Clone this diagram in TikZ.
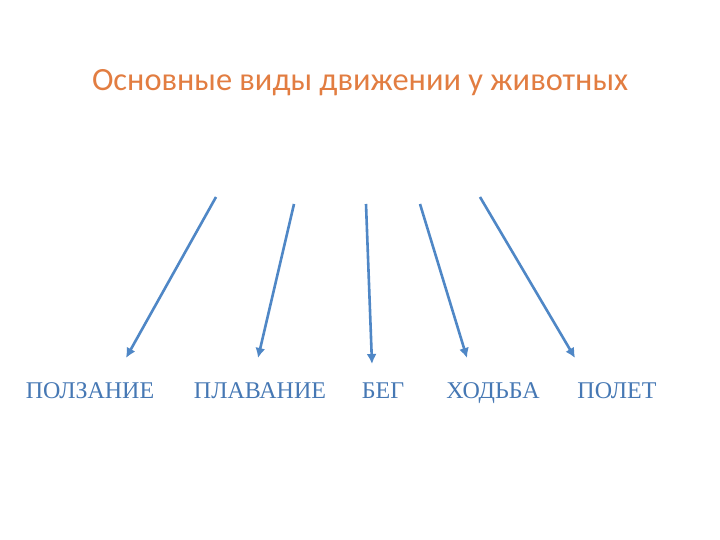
\documentclass[tikz,border=0pt]{standalone}
\usepackage{fontspec}
\usetikzlibrary{arrows.meta}
\setmainfont{Liberation Serif}
\newfontfamily\titlefont{Carlito}
\definecolor{arrowblue}{RGB}{79,135,198}
\definecolor{labelblue}{RGB}{70,120,180}
\definecolor{titleorange}{RGB}{226,125,65}
\begin{document}
\begin{tikzpicture}[x=1pt,y=-1pt,
  conn/.style={draw=arrowblue,line width=2.6pt,-{Latex[length=10pt,width=10pt]}},
  lbl/.style={text=labelblue,font=\fontsize{24}{28}\selectfont,inner sep=0pt,anchor=base},
  ttl/.style={text=titleorange,font=\titlefont\fontsize{32.4}{38}\selectfont,inner sep=0pt,anchor=base}]
\useasboundingbox[fill=white] (0,0) rectangle (720,540);
\node[ttl] (title) at (360,91) {Основные виды движении у животных};
\coordinate (s1) at (216,197);
\coordinate (s2) at (294,204);
\coordinate (s3) at (366,204);
\coordinate (s4) at (420,204);
\coordinate (s5) at (480,197);
\coordinate (e1) at (126,358);
\coordinate (e2) at (258,358);
\coordinate (e3) at (372,364);
\coordinate (e4) at (467,358);
\coordinate (e5) at (575,358);
\node[lbl] (l1) at (90,398) {ПОЛЗАНИЕ};
\node[lbl] (l2) at (260,398) {ПЛАВАНИЕ};
\node[lbl] (l3) at (383,398) {БЕГ};
\node[lbl] (l4) at (493,398) {ХОДЬБА};
\node[lbl] (l5) at (617,398) {ПОЛЕТ};
\draw[conn] (s1) -- (e1);
\draw[conn] (s2) -- (e2);
\draw[conn] (s3) -- (e3);
\draw[conn] (s4) -- (e4);
\draw[conn] (s5) -- (e5);
\end{tikzpicture}
\end{document}
